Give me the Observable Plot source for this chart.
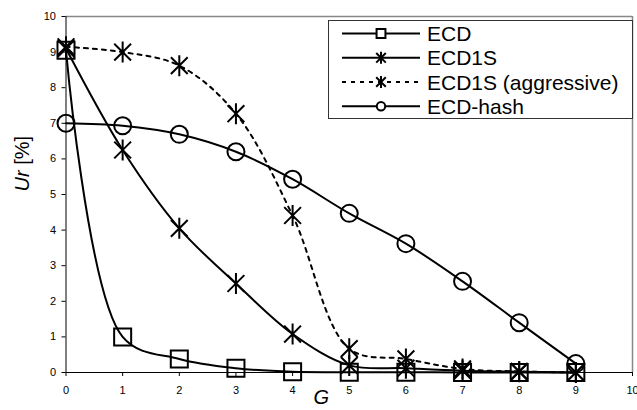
<!DOCTYPE html>
<html><head><meta charset="utf-8">
<script src="https://cdn.jsdelivr.net/npm/d3@7"></script>
<script src="https://cdn.jsdelivr.net/npm/@observablehq/plot@0.6"></script>
<style>
body{margin:0;background:#fff;}
#chart{position:relative;width:637px;height:410px;overflow:hidden;font-family:"Liberation Sans",Arial,sans-serif;background:#fff;}
#legend{position:absolute;left:0;top:0;}
</style></head><body><div id="chart"></div>
<script>
const G = [0, 1, 2, 3, 4, 5, 6, 7, 8, 9];
const seriesNames = ["ECD", "ECD1S", "ECD1S (aggressive)", "ECD-hash"];
const ecd = [9.05, 1.0, 0.38, 0.12, 0.02, 0.01, 0.01, 0.0, 0.0, 0.0];
const ecd1s = [9.1, 6.25, 4.05, 2.5, 1.08, 0.2, 0.12, 0.05, 0.02, 0.0];
const ecd1sAggr = [9.15, 9.0, 8.62, 7.27, 4.41, 0.67, 0.38, 0.1, 0.03, 0.0];
const ecdHash = [7.0, 6.93, 6.69, 6.2, 5.43, 4.47, 3.62, 2.56, 1.4, 0.25];
const xTicks = [0, 1, 2, 3, 4, 5, 6, 7, 8, 9, 10];
const yTicks = [0, 1, 2, 3, 4, 5, 6, 7, 8, 9, 10];
const xLabel = "G";
const yLabelItalic = "Ur";
const yLabelRest = " [%]";

const star = {
  draw(ctx, size) {
    const r = Math.sqrt(size / Math.PI);
    const a = r * 0.8;
    ctx.moveTo(-a, -a); ctx.lineTo(a, a);
    ctx.moveTo(a, -a); ctx.lineTo(-a, a);
    ctx.moveTo(0, -r); ctx.lineTo(0, r);
  }
};

const seriesVals = [ecd, ecd1s, ecd1sAggr, ecdHash];
const seriesStyle = [
  {symbol: "square", r: 9.6, dash: null, lr: 5},
  {symbol: star, r: 10.5, dash: null, lr: 6},
  {symbol: star, r: 10.5, dash: "4,5", lr: 6},
  {symbol: "circle", r: 8.5, dash: null, lr: 4.2}
];

const marks = [
  Plot.axisX({ticks: xTicks, tickSize: 4, tickPadding: 10, label: null, fontSize: 11}),
  Plot.axisY({ticks: yTicks, tickSize: 4, tickPadding: 6, label: null, fontSize: 11}),
  Plot.ruleY([10], {stroke: "#888", strokeWidth: 1.5}),
  Plot.ruleX([10], {stroke: "#888", strokeWidth: 1.5}),
  Plot.ruleX([0], {stroke: "#000"}),
  Plot.ruleY([0], {stroke: "#000"})
];
seriesNames.forEach((name, i) => {
  const data = G.map((g, j) => ({g, v: seriesVals[i][j], name}));
  const st = seriesStyle[i];
  marks.push(Plot.line(data, {x: "g", y: "v", stroke: "#000", strokeWidth: 2, curve: "catmull-rom", strokeDasharray: st.dash || undefined}));
  marks.push(Plot.dot(data, {x: "g", y: "v", symbol: () => st.symbol, r: st.r, stroke: "#000", strokeWidth: 2, fill: "none"}));
});
marks.push(Plot.text([yLabelItalic + yLabelRest], {frameAnchor: "left", dx: -43, dy: -3, rotate: -90, fontSize: 20}));
marks.push(Plot.text([xLabel], {frameAnchor: "bottom", dx: -28, dy: 31, fontSize: 20, fontStyle: "italic"}));

const plot = Plot.plot({
  width: 637, height: 410,
  marginLeft: 65.5, marginRight: 5, marginTop: 16, marginBottom: 38,
  x: {domain: [0, 10]},
  y: {domain: [0, 10]},
  style: {fontFamily: "'Liberation Sans', Arial, sans-serif", fontSize: "11px", color: "#000", background: "#fff"},
  marks
});
document.getElementById("chart").appendChild(plot);

// rich y label
d3.select(plot).selectAll("text").filter(function() { return this.textContent === yLabelItalic + yLabelRest; })
  .each(function() {
    const t = d3.select(this);
    t.text(null);
    t.append("tspan").attr("font-style", "italic").text(yLabelItalic);
    t.append("tspan").text(yLabelRest);
  });

// legend
const L = {left: 328, top: 20, w: 305, h: 98};
const leg = d3.select("#chart").append("svg").attr("id", "legend")
  .attr("width", 637).attr("height", 410);
leg.append("rect").attr("x", L.left + 0.5).attr("y", L.top + 0.5).attr("width", L.w - 1).attr("height", L.h)
  .attr("fill", "#fff").attr("stroke", "#333").attr("stroke-width", 1);
const rowY = [33.5, 57.8, 82, 106.3];
seriesNames.forEach((name, i) => {
  const st = seriesStyle[i];
  const y = rowY[i];
  leg.append("line").attr("x1", 342).attr("x2", 420).attr("y1", y).attr("y2", y)
    .attr("stroke", "#000").attr("stroke-width", 2).attr("stroke-dasharray", st.dash);
  const sym = d3.symbol().type(st.symbol === "square" ? d3.symbolSquare : st.symbol === "circle" ? d3.symbolCircle : star)
    .size(Math.PI * st.lr * st.lr);
  leg.append("path").attr("d", sym()).attr("transform", `translate(381,${y})`)
    .attr("fill", st.symbol === star ? "none" : "#fff").attr("stroke", "#000").attr("stroke-width", 2);
  leg.append("text").attr("x", 427).attr("y", y).attr("dy", "0.36em")
    .attr("font-family", "'Liberation Sans', Arial, sans-serif").attr("font-size", 21).text(name);
});
</script></body></html>
